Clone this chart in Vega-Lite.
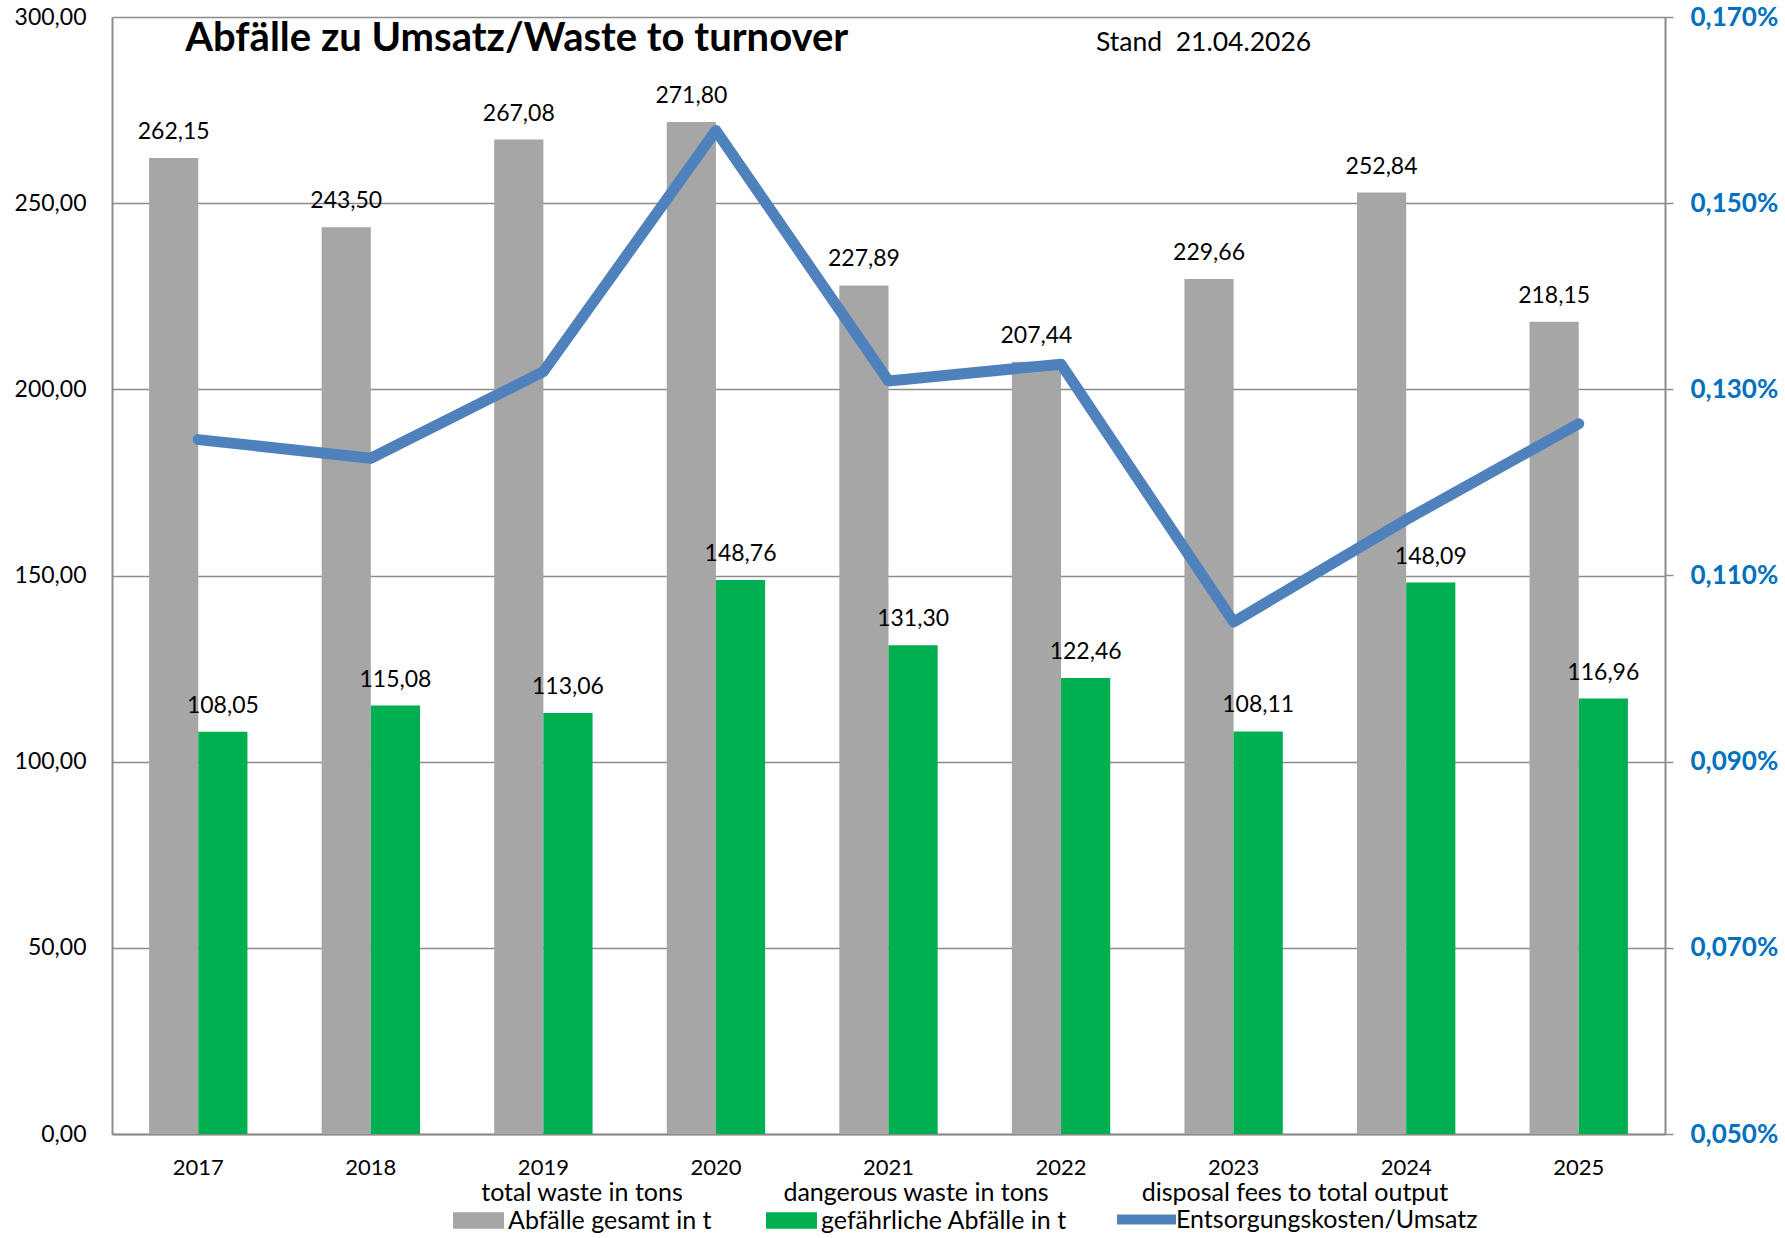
{
  "$schema": "https://vega.github.io/schema/vega-lite/v6.json",
  "width": 1553,
  "height": 1117,
  "autosize": {"type": "none"},
  "padding": {"left": 112, "top": 17, "right": 120, "bottom": 104},
  "background": "white",
  "config": {
    "locale": {"number": {"decimal": ",", "thousands": ".", "grouping": [3], "currency": ["", " €"]}},
    "font": "Lato",
    "view": {"stroke": null},
    "axis": {"labelFont": "Lato", "labelColor": "black", "title": null},
    "legend": {
      "orient": "none",
      "labelFont": "Lato",
      "labelFontSize": 25,
      "labelColor": "black",
      "labelLimit": 0,
      "labelBaseline": "middle",
      "titleFont": "Lato",
      "titleFontSize": 25,
      "titleFontWeight": "normal",
      "titleColor": "black",
      "titlePadding": -11,
      "titleLimit": 0,
      "titleAnchor": "middle"
    }
  },
  "datasets": {
    "bars": [
      {"year": "2017", "series": "Abfälle gesamt in t", "value": 262.15},
      {"year": "2017", "series": "gefährliche Abfälle in t", "value": 108.05},
      {"year": "2018", "series": "Abfälle gesamt in t", "value": 243.50},
      {"year": "2018", "series": "gefährliche Abfälle in t", "value": 115.08},
      {"year": "2019", "series": "Abfälle gesamt in t", "value": 267.08},
      {"year": "2019", "series": "gefährliche Abfälle in t", "value": 113.06},
      {"year": "2020", "series": "Abfälle gesamt in t", "value": 271.80},
      {"year": "2020", "series": "gefährliche Abfälle in t", "value": 148.76},
      {"year": "2021", "series": "Abfälle gesamt in t", "value": 227.89},
      {"year": "2021", "series": "gefährliche Abfälle in t", "value": 131.30},
      {"year": "2022", "series": "Abfälle gesamt in t", "value": 207.44},
      {"year": "2022", "series": "gefährliche Abfälle in t", "value": 122.46},
      {"year": "2023", "series": "Abfälle gesamt in t", "value": 229.66},
      {"year": "2023", "series": "gefährliche Abfälle in t", "value": 108.11},
      {"year": "2024", "series": "Abfälle gesamt in t", "value": 252.84},
      {"year": "2024", "series": "gefährliche Abfälle in t", "value": 148.09},
      {"year": "2025", "series": "Abfälle gesamt in t", "value": 218.15},
      {"year": "2025", "series": "gefährliche Abfälle in t", "value": 116.96}
    ],
    "ratio": [
      {"year": "2017", "ratio": 0.001246},
      {"year": "2018", "ratio": 0.001226},
      {"year": "2019", "ratio": 0.001319},
      {"year": "2020", "ratio": 0.001578},
      {"year": "2021", "ratio": 0.001309},
      {"year": "2022", "ratio": 0.001327},
      {"year": "2023", "ratio": 0.001050},
      {"year": "2024", "ratio": 0.001160},
      {"year": "2025", "ratio": 0.001263}
    ]
  },
  "encoding": {
    "x": {
      "field": "year",
      "type": "ordinal",
      "scale": {"paddingInner": 0.43, "paddingOuter": 0.215},
      "axis": {
        "labelAngle": 0,
        "ticks": false,
        "domainColor": "#8C8C8C",
        "domainWidth": 2,
        "labelFontSize": 22,
        "labelPadding": 23.5,
        "grid": false
      }
    }
  },
  "layer": [
    {
      "data": {"name": "bars"},
      "encoding": {
        "y": {
          "field": "value",
          "type": "quantitative",
          "scale": {"domain": [0, 300], "nice": false},
          "axis": {
            "orient": "left",
            "values": [0, 50, 100, 150, 200, 250, 300],
            "format": ".2f",
            "grid": true,
            "gridColor": "#8C8C8C",
            "gridWidth": 1.5,
            "domainColor": "#8C8C8C",
            "domainWidth": 2,
            "ticks": false,
            "labelPadding": 26,
            "labelFontSize": 23
          }
        },
        "xOffset": {"field": "series", "type": "nominal", "scale": {"domain": ["Abfälle gesamt in t", "gefährliche Abfälle in t"], "paddingInner": 0, "paddingOuter": 0}}
      },
      "layer": [
        {
          "transform": [{"filter": "datum.series == 'Abfälle gesamt in t'"}],
          "mark": {"type": "bar", "strokeWidth": 0},
          "encoding": {
            "color": {
              "datum": "Abfälle gesamt in t",
              "type": "nominal",
              "scale": {"range": ["#A6A6A6"]},
              "legend": {
                "legendX": 341,
                "legendY": 1164,
                "title": "total waste in tons",
                "symbolType": "M-1,-0.32H1V0.32H-1Z",
                "symbolSize": 2601,
                "symbolStrokeWidth": 0,
                "symbolOpacity": 1,
                "labelOffset": 4
              }
            }
          }
        },
        {
          "transform": [{"filter": "datum.series == 'gefährliche Abfälle in t'"}],
          "mark": {"type": "bar", "strokeWidth": 0},
          "encoding": {
            "fill": {
              "datum": "gefährliche Abfälle in t",
              "type": "nominal",
              "scale": {"range": ["#00B050"]},
              "legend": {
                "legendX": 654,
                "legendY": 1164,
                "title": "dangerous waste in tons",
                "symbolType": "M-1,-0.32H1V0.32H-1Z",
                "symbolSize": 2601,
                "symbolStrokeWidth": 0,
                "symbolOpacity": 1,
                "labelOffset": 4
              }
            }
          }
        },
        {
          "mark": {"type": "text", "color": "black", "fontSize": 23, "font": "Lato", "baseline": "alphabetic", "dy": -19},
          "encoding": {
            "text": {"field": "value", "type": "quantitative", "format": ".2f"}
          }
        }
      ]
    },
    {
      "data": {"name": "ratio"},
      "mark": {"type": "line", "strokeWidth": 11, "strokeCap": "round", "strokeJoin": "round"},
      "encoding": {
        "y": {
          "field": "ratio",
          "type": "quantitative",
          "scale": {"domain": [0.0005, 0.0017], "nice": false, "zero": false},
          "axis": {
            "orient": "right",
            "values": [0.0005, 0.0007, 0.0009, 0.0011, 0.0013, 0.0015, 0.0017],
            "format": ".3%",
            "grid": false,
            "domainColor": "#8C8C8C",
            "domainWidth": 2,
            "ticks": true,
            "tickSize": 8,
            "tickColor": "#8C8C8C",
            "tickWidth": 1.5,
            "labelPadding": 17,
            "labelFontSize": 26,
            "labelFontWeight": "bold",
            "labelColor": "#0070C0"
          }
        },
        "stroke": {
          "datum": "Entsorgungskosten/Umsatz",
          "type": "nominal",
          "scale": {"range": ["#4F81BD"]},
          "legend": {
            "legendX": 1000,
            "legendY": 1164,
            "title": "disposal fees to total output",
            "titlePadding": -21,
            "symbolType": "stroke",
            "symbolSize": 3481,
            "symbolStrokeWidth": 10,
            "labelOffset": -5
          }
        }
      }
    },
    {
      "data": {"values": [{"label": "Abfälle zu Umsatz/Waste to turnover"}]},
      "mark": {"type": "text", "color": "black", "fontSize": 40, "fontWeight": "bold", "font": "Lato", "baseline": "alphabetic", "align": "left", "dx": -13},
      "encoding": {
        "x": {"datum": "2017", "type": "ordinal"},
        "y": {"datum": 290.9, "type": "quantitative", "scale": {"domain": [0, 300], "nice": false}, "axis": null},
        "text": {"field": "label", "type": "nominal"}
      }
    },
    {
      "data": {"values": [{"label": "Stand\u00a0 21.04.2026"}]},
      "mark": {"type": "text", "color": "black", "fontSize": 26.5, "font": "Lato", "baseline": "middle", "align": "center", "dx": -30},
      "encoding": {
        "x": {"datum": "2023", "type": "ordinal"},
        "y": {"datum": 293, "type": "quantitative", "scale": {"domain": [0, 300], "nice": false}, "axis": null},
        "text": {"field": "label", "type": "nominal"}
      }
    }
  ],
  "resolve": {"scale": {"y": "independent"}}
}
